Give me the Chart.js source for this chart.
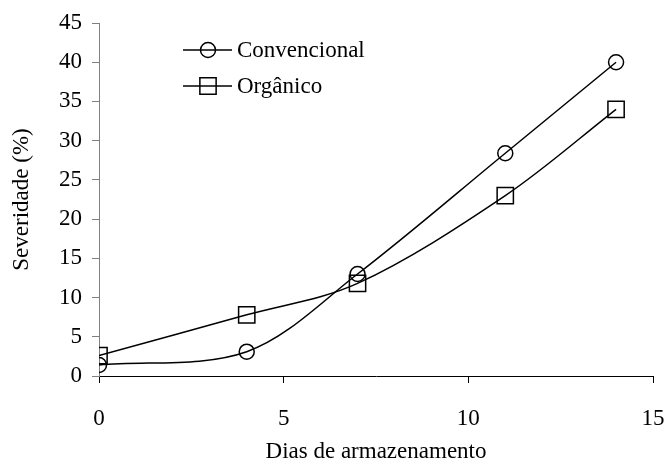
<!DOCTYPE html>
<html><head><meta charset="utf-8">
<script src="https://cdn.jsdelivr.net/npm/chart.js@4/dist/chart.umd.min.js"></script>
<style>html,body{margin:0;padding:0;background:#fff}#wrap{width:668px;height:463px}</style>
</head><body><div id="wrap"><canvas id="c" width="668" height="463"></canvas></div>
<script>
const days = [0, 4, 7, 11, 14];
const convencional = [1.4, 3.1, 13.0, 28.4, 40.0];
const organico = [2.6, 7.8, 11.8, 23.0, 34.0];
const seriesNames = ['Convencional', 'Orgânico'];
const xTitle = 'Dias de armazenamento';
const yTitle = 'Severidade (%)';

const FONT = '"Liberation Serif","Times New Roman",serif';
const FS = 23;
const markerRadius = {circle: 7.5, rect: 11.5};

const legendPlugin = {
  id: 'inlegend',
  afterDraw(chart) {
    const ctx = chart.ctx;
    const rows = [50, 86];
    chart.data.datasets.forEach((ds, i) => {
      const y = rows[i];
      ctx.save();
      ctx.strokeStyle = '#000';
      ctx.lineWidth = 1.5;
      ctx.beginPath(); ctx.moveTo(183, y); ctx.lineTo(232, y); ctx.stroke();
      ctx.fillStyle = 'rgba(0,0,0,0)';
      Chart.helpers.drawPoint(ctx, {pointStyle: ds.pointStyle, rotation: 0, radius: markerRadius[ds.pointStyle], borderWidth: 1.5}, 208, y);
      ctx.fillStyle = '#000';
      ctx.font = FS + 'px ' + FONT;
      ctx.textBaseline = 'middle';
      ctx.textAlign = 'left';
      ctx.fillText(ds.label, 237, y + 1);
      ctx.restore();
    });
  }
};

new Chart(document.getElementById('c'), {
  type: 'line',
  data: {
    datasets: [
      {label: seriesNames[0], data: days.map((d, i) => ({x: d, y: convencional[i]})),
       borderColor: '#000', borderWidth: 1.5, pointStyle: 'circle', pointRadius: markerRadius.circle,
       pointBorderColor: '#000', pointBackgroundColor: 'rgba(0,0,0,0)', pointBorderWidth: 1.5,
       tension: 0.33, fill: false},
      {label: seriesNames[1], data: days.map((d, i) => ({x: d, y: organico[i]})),
       borderColor: '#000', borderWidth: 1.5, pointStyle: 'rect', pointRadius: markerRadius.rect,
       pointBorderColor: '#000', pointBackgroundColor: 'rgba(0,0,0,0)', pointBorderWidth: 1.5,
       tension: 0.33, fill: false}
    ]
  },
  options: {
    responsive: false,
    animation: false,
    events: [],
    layout: {padding: {left: 0, right: 15, top: 23, bottom: 0}},
    plugins: {legend: {display: false}, tooltip: {enabled: false}},
    scales: {
      x: {
        type: 'linear', min: 0, max: 15,
        ticks: {stepSize: 5, color: '#000', font: {family: FONT, size: FS}, padding: 22},
        grid: {drawOnChartArea: false, drawTicks: true, tickLength: 7, color: '#000', tickWidth: 1},
        border: {color: '#000', width: 1},
        title: {display: true, text: xTitle, color: '#000', font: {family: FONT, size: FS, lineHeight: 1}, padding: {top: 0, bottom: 0}},
        afterFit(s) { s.height = 87; s.paddingLeft = 0; s.paddingRight = 0; }
      },
      y: {
        type: 'linear', min: 0, max: 45,
        ticks: {stepSize: 5, color: '#000', font: {family: FONT, size: FS}, padding: 10},
        grid: {drawOnChartArea: false, drawTicks: true, tickLength: 7, color: '#808080', tickWidth: 1},
        border: {color: '#808080', width: 1},
        title: {display: true, text: yTitle, color: '#000', font: {family: FONT, size: FS, lineHeight: 1}, padding: {top: 10, bottom: 0}},
        afterFit(s) { s.width = 99; s.paddingTop = 0; s.paddingBottom = 0; }
      }
    }
  },
  plugins: [legendPlugin]
});
</script>
</body></html>
